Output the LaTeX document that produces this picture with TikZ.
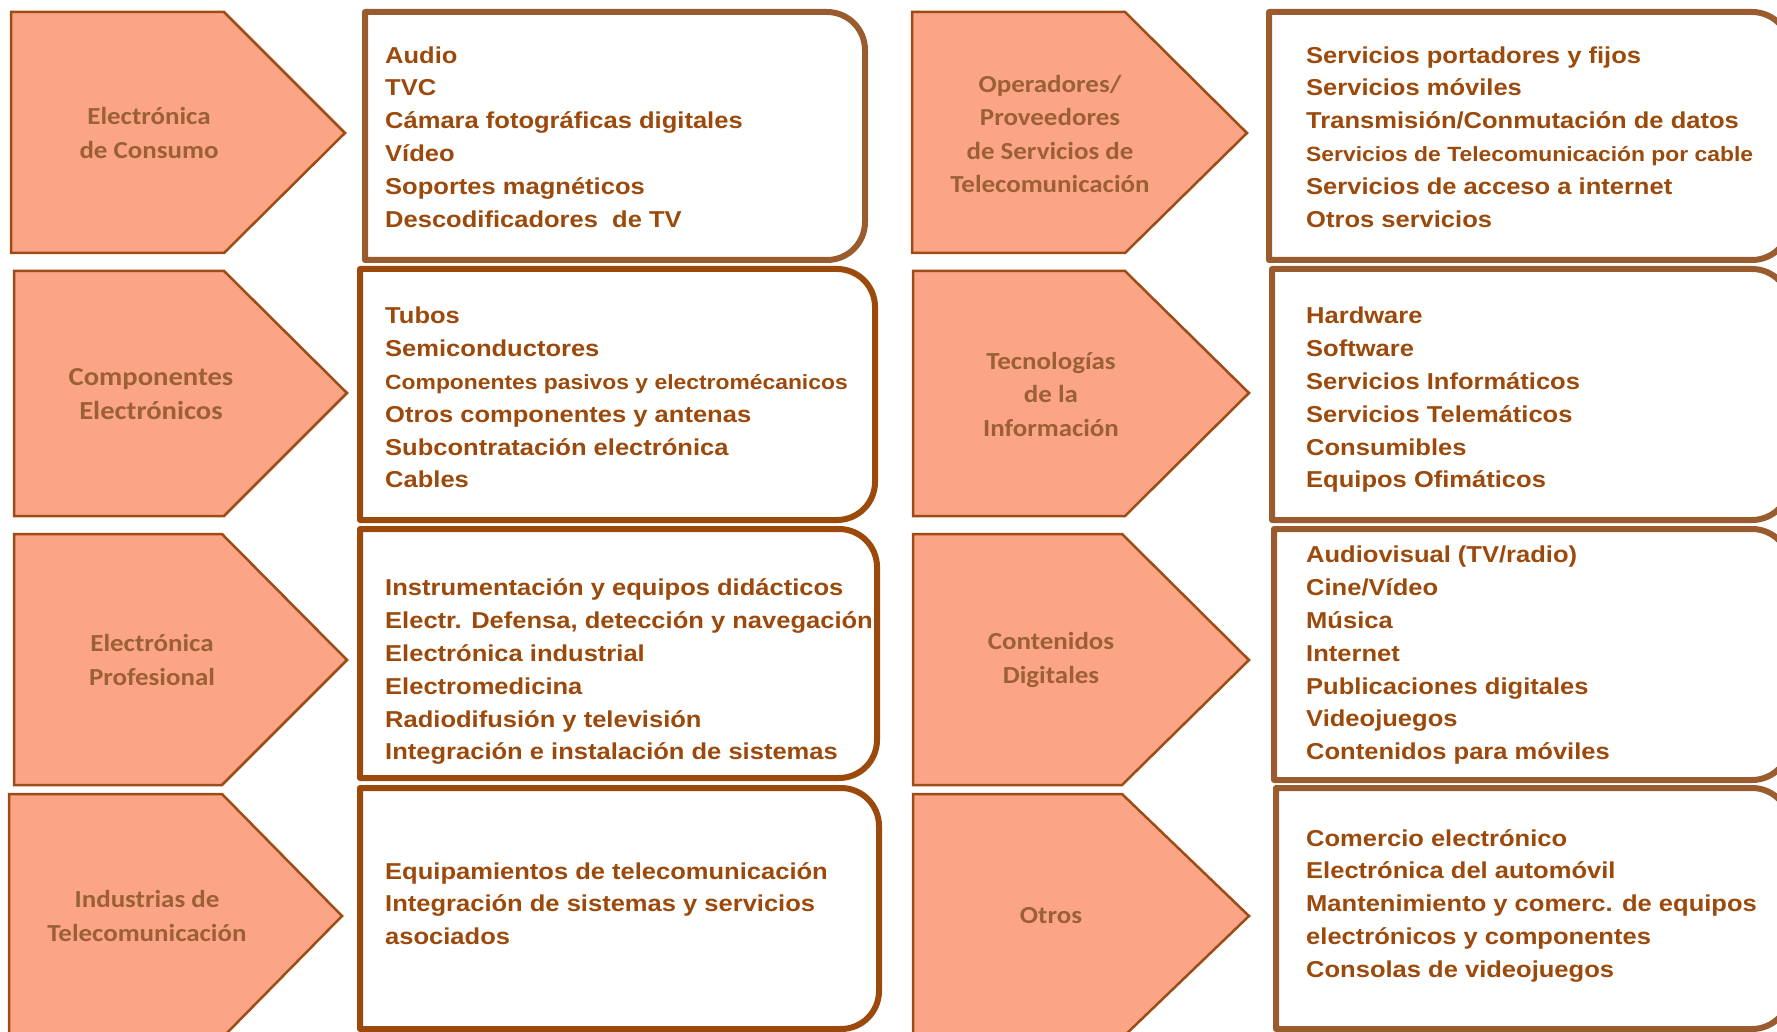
\documentclass[tikz,border=0pt]{standalone}
\usepackage{fontspec}
\newfontfamily\boxf[FakeStretch=1.11]{Liberation Sans}
\newfontfamily\labf[FakeStretch=1.1]{Carlito}
\definecolor{fillc}{HTML}{FCA486}
\definecolor{arrowc}{HTML}{9C4C14}
\definecolor{boxa}{HTML}{9A5B2E}
\definecolor{boxb}{HTML}{9C4A0B}
\definecolor{itemc}{HTML}{9C4A0C}
\definecolor{labc}{HTML}{9B6135}
\tikzset{
  arrowshape/.style={fill=fillc, draw=arrowc, line width=2.5pt, line join=miter},
  boxshape/.style={draw=#1, line width=6pt, fill=white, line join=round},
  lab/.style={align=center, text=labc, font=\labf\bfseries\fontsize{24.5}{33.5}\selectfont, inner sep=0pt},
  biglab/.style={lab, font=\labf\bfseries\fontsize{26}{34.5}\selectfont},
  items/.style={align=left, text=itemc, font=\boxf\bfseries\fontsize{23}{32.8}\selectfont, inner sep=0pt, anchor=north west},
}
\newcommand\smallitem[1]{{\fontsize{20.6}{32.8}\selectfont #1}}
\begin{document}
\begin{tikzpicture}[x=1pt,y=-1pt]
\useasboundingbox (0,0) rectangle (1777,1032);
\clip (0,0) rectangle (1777,1032);
% ---------- left column arrows ----------
\draw[arrowshape] (11,12) -- (224,12) -- (345,133) -- (224,253) -- (11,253) -- cycle;
\draw[arrowshape] (14,271) -- (224,271) -- (347,393) -- (224,516) -- (14,516) -- cycle;
\draw[arrowshape] (14,534) -- (222,534) -- (347,660) -- (222,785) -- (14,785) -- cycle;
\draw[arrowshape] (9,794) -- (222,794) -- (342,916) -- (222,1038) -- (9,1038) -- cycle;
% ---------- right column arrows ----------
\draw[arrowshape] (912,12) -- (1125,12) -- (1247,133) -- (1125,253) -- (912,253) -- cycle;
\draw[arrowshape] (913,271) -- (1125,271) -- (1249,393) -- (1125,516) -- (913,516) -- cycle;
\draw[arrowshape] (913,534) -- (1122,534) -- (1249,660) -- (1122,785) -- (913,785) -- cycle;
\draw[arrowshape] (913,794) -- (1122,794) -- (1249,916) -- (1122,1038) -- (913,1038) -- cycle;
% ---------- boxes ----------
\draw[boxshape=boxa] (365,12) -- (827,12) arc[start angle=-90,end angle=0,radius=38] -- (865,222) arc[start angle=0,end angle=90,radius=38] -- (365,260) -- cycle;
\draw[boxshape=boxb] (360,269) -- (837,269) arc[start angle=-90,end angle=0,radius=38] -- (875,482) arc[start angle=0,end angle=90,radius=38] -- (360,520) -- cycle;
\draw[boxshape=boxb] (360,529) -- (839,529) arc[start angle=-90,end angle=0,radius=38] -- (877,740) arc[start angle=0,end angle=90,radius=38] -- (360,778) -- cycle;
\draw[boxshape=boxb] (360,788) -- (841,788) arc[start angle=-90,end angle=0,radius=38] -- (879,991) arc[start angle=0,end angle=90,radius=38] -- (360,1029) -- cycle;
\draw[boxshape=boxa] (1269,12) -- (1752,12) arc[start angle=-90,end angle=0,radius=38] -- (1790,222) arc[start angle=0,end angle=90,radius=38] -- (1269,260) -- cycle;
\draw[boxshape=boxa] (1272,269) -- (1752,269) arc[start angle=-90,end angle=0,radius=38] -- (1790,482) arc[start angle=0,end angle=90,radius=38] -- (1272,520) -- cycle;
\draw[boxshape=boxa] (1274,529) -- (1752,529) arc[start angle=-90,end angle=0,radius=38] -- (1790,742) arc[start angle=0,end angle=90,radius=38] -- (1274,780) -- cycle;
\draw[boxshape=boxa] (1276,788) -- (1752,788) arc[start angle=-90,end angle=0,radius=38] -- (1790,991) arc[start angle=0,end angle=90,radius=38] -- (1276,1029) -- cycle;
% ---------- arrow labels ----------
\node[lab] (la1) at (149,133) {Electrónica\\de Consumo};
\node[biglab] (la2) at (151,394) {Componentes\\Electrónicos};
\node[lab] (la3) at (152,660) {Electrónica\\Profesional};
\node[lab] (la4) at (147,916) {Industrias de\\Telecomunicación};
\node[lab] (ra1) at (1050,134) {Operadores/\\Proveedores\\de Servicios de\\Telecomunicación};
\node[lab] (ra2) at (1051,394) {Tecnologías\\de la\\Información};
\node[lab] (ra3) at (1051,660) {Contenidos\\Digitales};
\node[lab] (ra4) at (1051,916) {Otros};
% ---------- box items ----------
\node[items] (lb1) at (385,40) {\strut Audio\\TVC\\Cámara fotográficas digitales\\Vídeo\\Soportes magnéticos\\Descodificadores\ \ de TV};
\node[items] (lb2) at (385,300.7) {\strut Tubos\\Semiconductores\\\smallitem{Componentes pasivos y electromécanicos}\\Otros componentes y antenas\\Subcontratación electrónica\\Cables};
\node[items] (lb3) at (385,572.7) {\strut Instrumentación y equipos didácticos\\Electr. Defensa, detección y navegación\\Electrónica industrial\\Electromedicina\\Radiodifusión y televisión\\Integración e instalación de sistemas};
\node[items] (lb4) at (385,856) {\strut Equipamientos de telecomunicación\\Integración de sistemas y servicios\\asociados};
\node[items] (rb1) at (1306,40) {\strut Servicios portadores y fijos\\Servicios móviles\\Transmisión/Conmutación de datos\\\smallitem{Servicios de Telecomunicación por cable}\\Servicios de acceso a internet\\Otros servicios};
\node[items] (rb2) at (1306,300.7) {\strut Hardware\\Software\\Servicios Informáticos\\Servicios Telemáticos\\Consumibles\\Equipos Ofimáticos};
\node[items] (rb3) at (1306,539.8) {\strut Audiovisual (TV/radio)\\Cine/Vídeo\\Música\\Internet\\Publicaciones digitales\\Videojuegos\\Contenidos para móviles};
\node[items] (rb4) at (1306,823) {\strut Comercio electrónico\\Electrónica del automóvil\\Mantenimiento y comerc. de equipos\\electrónicos y componentes\\Consolas de videojuegos};
\end{tikzpicture}
\end{document}
